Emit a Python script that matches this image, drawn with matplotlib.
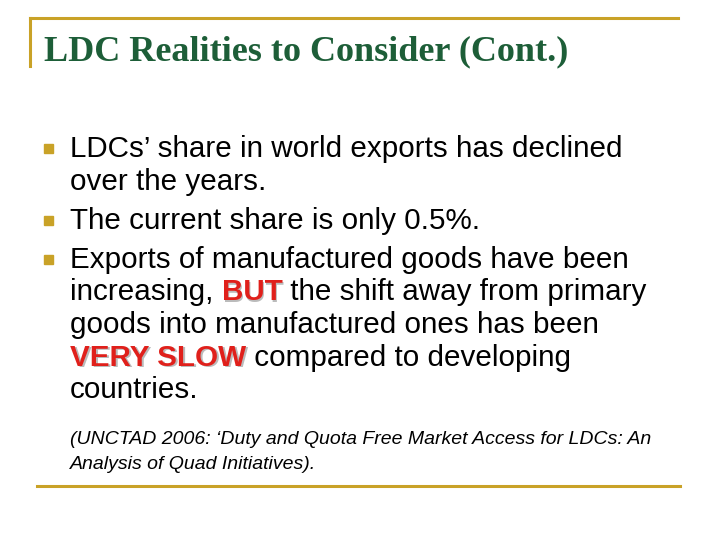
import matplotlib.pyplot as plt
from matplotlib.patches import Rectangle

title = "LDC Realities to Consider (Cont.)"
# each bullet: list of lines, each line list of (text, highlighted)
bullets = [
    [[("LDCs\u2019 share in world exports has declined", False)],
     [("over the years.", False)]],
    [[("The current share is only 0.5%.", False)]],
    [[("Exports of manufactured goods have been", False)],
     [("increasing, ", False), ("BUT", True), (" the shift away from primary", False)],
     [("goods into manufactured ones has been", False)],
     [("VERY SLOW", True), (" compared to developing", False)],
     [("countries.", False)]],
]
citation = ["(UNCTAD 2006: \u2018Duty and Quota Free Market Access for LDCs: An",
            "Analysis of Quad Initiatives)."]

gold = '#C9A227'
green = '#1D5E38'
red = '#E0201B'

fig = plt.figure(figsize=(7.2, 5.4), dpi=100)
ax = fig.add_axes([0, 0, 1, 1])
ax.set_xlim(0, 720)
ax.set_ylim(540, 0)
ax.axis('off')

# frame lines
ax.plot([30, 678], [18, 18], color=gold, lw=2.2)
ax.plot([30, 30], [18, 66], color=gold, lw=2.2)
ax.plot([37, 680], [486, 486], color=gold, lw=2.2)

ax.text(44, 60, title, family='Liberation Serif', weight='bold', fontsize=26,
        color=green, va='baseline')

fig.canvas.draw()
renderer = fig.canvas.get_renderer()

y = 157
for lines in bullets:
    ax.add_patch(Rectangle((44, y - 13), 9, 9, color=gold))
    for line in lines:
        x = 70
        for txt, hl in line:
            kw = dict(family='Liberation Sans', fontsize=21.3, va='baseline')
            if hl:
                ax.text(x + 1.5, y + 1.5, txt, color='#BBBBBB', weight='bold', **kw)
                t = ax.text(x, y, txt, color=red, weight='bold', **kw)
            else:
                t = ax.text(x, y, txt, color='black', **kw)
            bb = t.get_window_extent(renderer)
            x += bb.width
        y += 32.6
    y += 6.5

y = 444
for line in citation:
    ax.text(70, y, line, family='Liberation Sans', style='italic', fontsize=14,
            color='black', va='baseline')
    y += 25

fig.savefig('out.png', dpi=100)
